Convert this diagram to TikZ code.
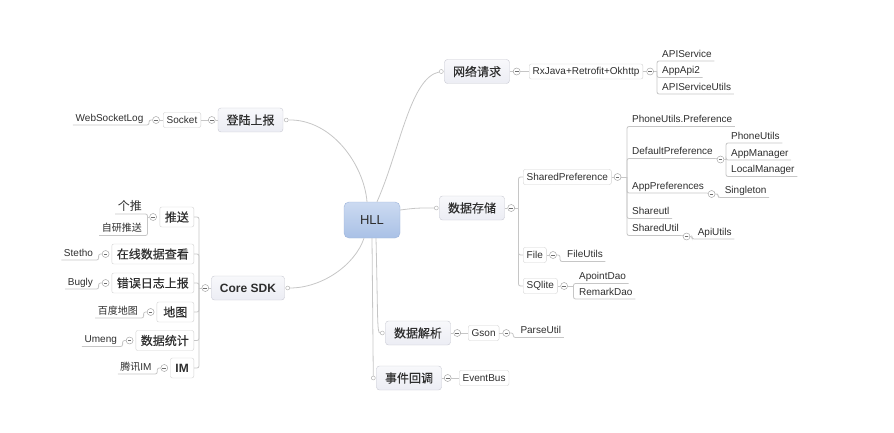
\documentclass[tikz,border=0pt]{standalone}
\usepackage{fontspec}
\setmainfont{Liberation Sans}
\newfontfamily\cjk{Noto Sans CJK SC}
\newfontfamily\cjkb{Noto Sans CJK SC}[FakeBold=0.35]
\usetikzlibrary{positioning, calc}
\definecolor{linegray}{HTML}{C6C6C6}
\definecolor{inkgray}{HTML}{2E2E2E}
\definecolor{roottop}{HTML}{CCDAF1}
\definecolor{rootbot}{HTML}{A9C1E6}
\definecolor{rootedge}{HTML}{9CB3DA}
\definecolor{topictop}{HTML}{F8F8FB}
\definecolor{topicbot}{HTML}{ECEDF4}
\definecolor{topicedge}{HTML}{C8C9D2}
\definecolor{subedge}{HTML}{D2D2D2}
\definecolor{foldedge}{HTML}{A8A8A8}

\begin{document}
\begin{tikzpicture}[x=1pt, y=-1pt,
  root/.style={draw=rootedge, rounded corners=5pt, top color=roottop,
    bottom color=rootbot, minimum width=56pt, minimum height=36pt,
    text=inkgray, font=\fontsize{13}{15}\selectfont},
  topic/.style={draw=topicedge, rounded corners=3pt, top color=topictop,
    bottom color=topicbot, inner xsep=8.5pt, inner ysep=2pt,
    minimum height=24pt, text=inkgray, font=\cjkb\fontsize{12}{14}\selectfont},
  sub/.style={draw=subedge, fill=white, rounded corners=2pt,
    inner xsep=3.5pt, inner ysep=1.5pt, minimum height=15pt,
    text=inkgray, font=\fontsize{10}{12}\selectfont},
  subcn/.style={sub, inner xsep=5pt, minimum height=20pt,
    font=\cjkb\fontsize{12}{14}\selectfont},
  leaf/.style={inner xsep=2.5pt, inner ysep=1.5pt, text height=7.5pt,
    text depth=2pt, text=inkgray, font=\fontsize{10}{12}\selectfont},
  leafcn/.style={leaf, font=\cjk\fontsize{10}{12}\selectfont},
  fold/.style={circle, draw=foldedge, fill=white, minimum size=7pt,
    inner sep=0pt, line width=0.5pt,
    path picture={\draw[inkgray!70, line width=0.6pt]
      ([xshift=-1.8pt]path picture bounding box.center) --
      ([xshift=1.8pt]path picture bounding box.center);}},
  joint/.style={circle, draw=foldedge, fill=white, minimum size=4pt,
    inner sep=0pt, line width=0.4pt},
  link/.style={draw=linegray, line width=0.8pt},
  elbow/.style={link, rounded corners=2pt}]

\useasboundingbox (0,0) rectangle (894,433);

% centre and main topics
\node[root] (hll) at (372,220) {HLL};
\node[topic] (net) at (477,71.5) {网络请求};
\node[topic] (store) at (472,208) {数据存储};
\node[topic] (parse) at (418,333) {数据解析};
\node[topic] (event) at (409,378) {事件回调};
\node[topic] (login) at (250.5,120) {登陆上报};
\node[topic, font=\bfseries\fontsize{12}{14}\selectfont] (core) at (248,288) {Core SDK};

\node[joint] (netj) at ([xshift=-3pt]net.west) {};
\node[joint] (storej) at ([xshift=-3pt]store.west) {};
\node[joint] (parsej) at ([xshift=-3pt]parse.west) {};
\node[joint] (eventj) at ([xshift=-3pt]event.west) {};
\node[joint] (loginj) at ([xshift=3pt]login.east) {};
\node[joint] (corej) at ([xshift=3pt]core.east) {};

\draw[link] ([xshift=5pt]hll.north) .. controls (400,150) and (410,78) .. (netj);
\draw[link] ([yshift=10pt]hll.east) .. controls (416,208) .. (storej);
\draw[link] ([xshift=-5pt]hll.north) .. controls (364,165) and (332,119) .. (loginj);
\draw[link] ([xshift=-8pt]hll.south) .. controls (355,265) and (322,288) .. (corej);
\draw[link] ([xshift=4pt]hll.south) .. controls (378,322) and (377,333) .. (parsej);
\draw[link] (hll.south) -- (eventj);

% 网络请求
\node[fold] (netf) at ([xshift=7pt]net.east) {};
\node[sub, anchor=west] (rx) at (529,71.5) {RxJava+Retrofit+Okhttp};
\node[fold] (rxf) at ([xshift=7pt]rx.east) {};
\coordinate (rxt) at (rxf -| 657,0);
\node[leaf, anchor=south west] (apisrv) at (659.5,61) {APIService};
\node[leaf, anchor=south west] (appapi) at (659.5,77.5) {AppApi2};
\node[leaf, anchor=south west] (apiutl) at (659.5,94) {APIServiceUtils};
\draw[link] (net) -- (netf) (netf) -- (rx) (rx) -- (rxf) (rxf) -- (rxt);
\foreach \n in {apisrv, appapi, apiutl}
  \draw[elbow] (rxt) |- (\n.south east);

% 数据存储
\node[fold] (storef) at ([xshift=6.5pt]store.east) {};
\coordinate (storet) at (storef -| 518.5,0);
\node[sub, anchor=west] (shpref) at (523,177) {SharedPreference};
\node[sub, anchor=west] (file) at (523,255) {File};
\node[sub, anchor=west] (sqlite) at (523,286) {SQlite};
\draw[link] (store) -- (storef) (storef) -- (storet);
\foreach \n in {shpref, file, sqlite}
  \draw[elbow] (storet) |- (\n.west);

\node[fold] (shpreff) at ([xshift=6pt]shpref.east) {};
\coordinate (shpreft) at (shpreff -| 627,0);
\node[leaf, anchor=south west] (phpref) at (629.5,126.5) {PhoneUtils.Preference};
\node[leaf, anchor=south west] (defpref) at (629.5,158.5) {DefaultPreference};
\node[leaf, anchor=south west] (apppref) at (629.5,193) {AppPreferences};
\node[leaf, anchor=south west] (shutl) at (629.5,218.5) {Shareutl};
\node[leaf, anchor=south west] (shutil) at (629.5,235.5) {SharedUtil};
\draw[link] (shpref) -- (shpreff) (shpreff) -- (shpreft);
\foreach \n in {phpref, defpref, apppref, shutl, shutil}
  \draw[elbow] (shpreft) |- (\n.south east);

\node[fold] (defpreff) at ([xshift=5pt, yshift=-1pt]defpref.south east) {};
\coordinate (defpreft) at (defpreff -| 726,0);
\node[leaf, anchor=south west] (phutils) at (728.5,143) {PhoneUtils};
\node[leaf, anchor=south west] (appmgr) at (728.5,160) {AppManager};
\node[leaf, anchor=south west] (locmgr) at (728.5,176.5) {LocalManager};
\draw[link] (defpref.south east) -- (defpreff) (defpreff) -- (defpreft);
\foreach \n in {phutils, appmgr, locmgr}
  \draw[elbow] (defpreft) |- (\n.south east);

\node[fold] (apppreff) at ([xshift=5pt, yshift=-1pt]apppref.south east) {};
\node[leaf, anchor=south west] (single) at ([xshift=10.5pt, yshift=-3.5pt]apppreff.center) {Singleton};
\draw[link] (apppref.south east) -- (apppreff);
\draw[elbow] (apppreff) -| ([xshift=-4pt]single.south west) -- (single.south east);

\node[fold] (shutilf) at ([xshift=5pt, yshift=-1pt]shutil.south east) {};
\node[leaf, anchor=south west] (apiutils) at ([xshift=8.5pt, yshift=-2.5pt]shutilf.center) {ApiUtils};
\draw[link] (shutil.south east) -- (shutilf);
\draw[elbow] (shutilf) -| ([xshift=-3pt]apiutils.south west) -- (apiutils.south east);

\node[fold] (filef) at ([xshift=6.5pt]file.east) {};
\node[leaf, anchor=south west] (fileutils) at ([xshift=11.5pt, yshift=-6.5pt]filef.center) {FileUtils};
\draw[link] (file) -- (filef);
\draw[elbow] (filef) -| ([xshift=-4.5pt]fileutils.south west) -- (fileutils.south east);

\node[fold] (sqlitef) at ([xshift=6.5pt]sqlite.east) {};
\coordinate (sqlitet) at (sqlitef -| 573.5,0);
\node[leaf, anchor=south west] (apoint) at (576.5,283.5) {ApointDao};
\node[leaf, anchor=south west] (remark) at (576.5,299) {RemarkDao};
\draw[link] (sqlite) -- (sqlitef) (sqlitef) -- (sqlitet);
\foreach \n in {apoint, remark}
  \draw[elbow] (sqlitet) |- (\n.south east);

% 数据解析, 事件回调
\node[fold] (parsef) at ([xshift=6.5pt]parse.east) {};
\node[sub, anchor=west] (gson) at (468,333) {Gson};
\node[fold] (gsonf) at ([xshift=7pt]gson.east) {};
\node[leaf, anchor=south west] (parseutil) at ([xshift=11.5pt, yshift=-4.5pt]gsonf.center) {ParseUtil};
\draw[link] (parse) -- (parsef) (parsef) -- (gson) (gson) -- (gsonf);
\draw[elbow] (gsonf) -| ([xshift=-4.5pt]parseutil.south west) -- (parseutil.south east);

\node[fold] (eventf) at ([xshift=6pt]event.east) {};
\node[sub, anchor=west] (eventbus) at (459,378) {EventBus};
\draw[link] (event) -- (eventf) (eventf) -- (eventbus);

% 登陆上报
\node[fold] (loginf) at ([xshift=-6pt]login.west) {};
\node[sub, anchor=east] (socket) at (201,120) {Socket};
\node[fold] (socketf) at ([xshift=-7pt]socket.west) {};
\node[leaf, anchor=south east] (wslog) at ([xshift=-10pt, yshift=-5pt]socketf.center) {WebSocketLog};
\draw[link] (login) -- (loginf) (loginf) -- (socket) (socket) -- (socketf);
\draw[elbow] (socketf) -| ([xshift=3pt]wslog.south east) -- (wslog.south west);

% Core SDK
\node[fold] (coref) at ([xshift=-6pt]core.west) {};
\coordinate (coret) at (coref -| 199,0);
\node[subcn, anchor=east] (push) at (194,217) {推送};
\node[subcn, anchor=east] (online) at (194,254) {在线数据查看};
\node[subcn, anchor=east] (crash) at (194,283) {错误日志上报};
\node[subcn, anchor=east, minimum width=37pt] (map) at (194,312) {地图};
\node[subcn, anchor=east] (stats) at (194,340.5) {数据统计};
\node[subcn, anchor=east, font=\bfseries\fontsize{12}{14}\selectfont] (im) at (194,368) {IM};
\draw[link] (core) -- (coref) (coref) -- (coret);
\foreach \n in {push, online, crash, map, stats, im}
  \draw[elbow] (coret) |- (\n.east);

\node[fold] (pushf) at ([xshift=-6.5pt]push.west) {};
\coordinate (pusht) at (pushf -| 147.5,0);
\node[leafcn, anchor=south east, font=\cjk\fontsize{12}{14}\selectfont] (getui) at (144.5,214) {个推};
\node[leafcn, anchor=south east] (selfpush) at (144.5,235.5) {自研推送};
\draw[link] (pushf) -- (pusht);
\foreach \n in {getui, selfpush}
  \draw[elbow] (pusht) |- (\n.south west);

\node[fold] (onlinef) at ([xshift=-6pt]online.west) {};
\node[leaf, anchor=south east] (stetho) at ([xshift=-10pt, yshift=-6pt]onlinef.center) {Stetho};
\draw[elbow] (onlinef) -| ([xshift=3pt]stetho.south east) -- (stetho.south west);

\node[fold] (crashf) at ([xshift=-6pt]crash.west) {};
\node[leaf, anchor=south east] (bugly) at ([xshift=-10pt, yshift=-6pt]crashf.center) {Bugly};
\draw[elbow] (crashf) -| ([xshift=3pt]bugly.south east) -- (bugly.south west);

\node[fold] (mapf) at ([xshift=-6pt]map.west) {};
\node[leafcn, anchor=south east] (baidu) at ([xshift=-10pt, yshift=-6pt]mapf.center) {百度地图};
\draw[elbow] (mapf) -| ([xshift=3pt]baidu.south east) -- (baidu.south west);

\node[fold] (statsf) at ([xshift=-6pt]stats.west) {};
\node[leaf, anchor=south east] (umeng) at ([xshift=-10pt, yshift=-6pt]statsf.center) {Umeng};
\draw[elbow] (statsf) -| ([xshift=3pt]umeng.south east) -- (umeng.south west);

\node[fold] (imf) at ([xshift=-6pt]im.west) {};
\node[leaf, anchor=south east] (tencent) at ([xshift=-10pt, yshift=-6pt]imf.center) {{\cjk 腾讯}IM};
\draw[elbow] (imf) -| ([xshift=3pt]tencent.south east) -- (tencent.south west);
\end{tikzpicture}
\end{document}
